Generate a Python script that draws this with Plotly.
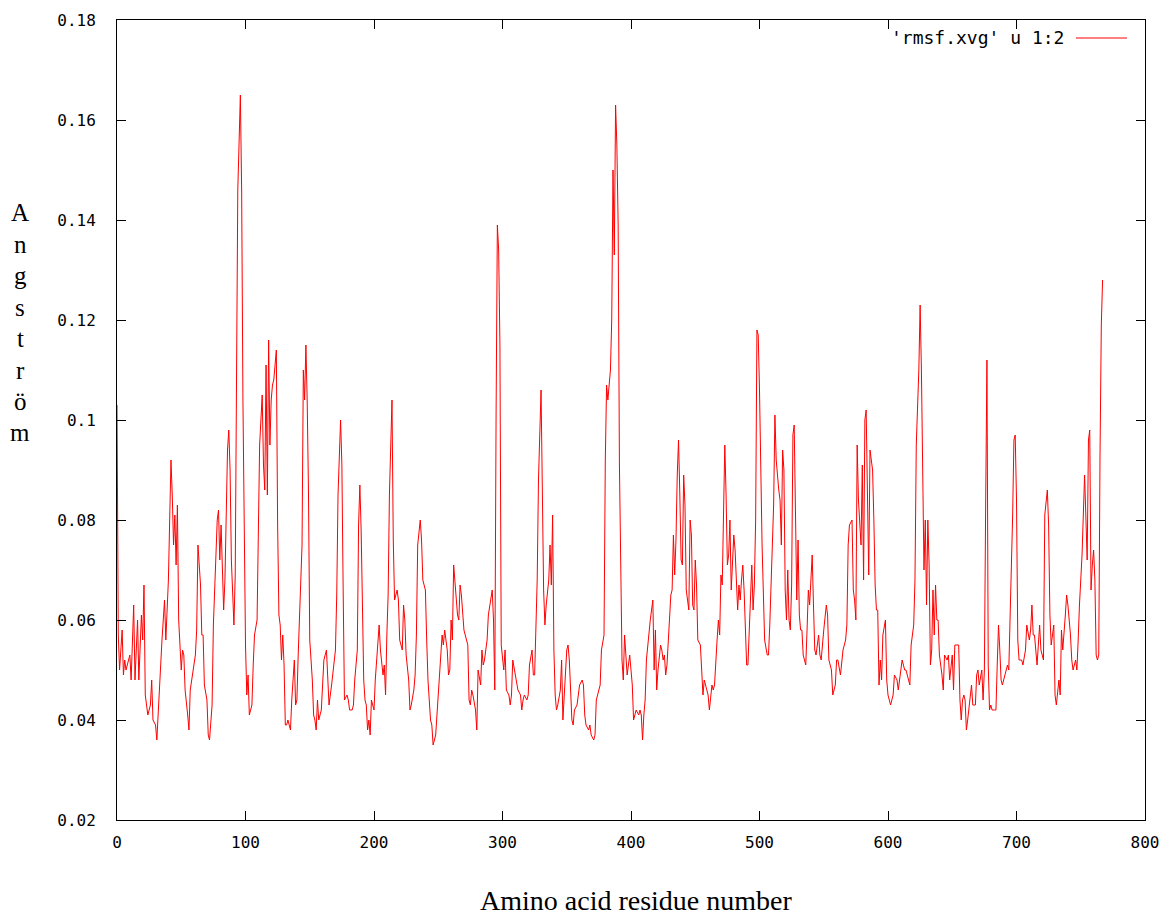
import plotly.graph_objects as go

# ---- data (residue number, RMSF value) ----
res_a = [0,1,2,3,4,5,6,7,10,11,13,14,16,17,19,20,21,22,24,26,27,28,30,31,33,34,35,37,38,40,41,42,43,44,45,46,47,48,50,51,52,53,55,56,57,58,59,61,62,63,65,66,67,68,70,71,72,74,75,76,78,79,80,81,83,84,85,86,87,88,89,90,91,92,93,94,96,97,98]
val_a = [.103,.057,.050,.055,.058,.049,.052,.050,.053,.048,.063,.048,.060,.048,.061,.056,.067,.045,.041,.043,.048,.040,.039,.036,.046,.052,.056,.064,.056,.068,.078,.092,.085,.075,.081,.071,.083,.060,.050,.054,.053,.046,.041,.038,.046,.048,.050,.053,.058,.075,.067,.057,.057,.047,.044,.037,.036,.043,.059,.066,.080,.082,.072,.079,.062,.068,.085,.094,.098,.090,.072,.064,.059,.069,.111,.146,.165,.146,.104]

res_b = [100,101,102,103,105,106,107,109,110,111,113,114,115,116,117,118,119,120,121,122,123,124,125,126,127,128,129,130,131,132,133,135,136,137,138,139,140,141,142,144,145,146,147,148,149,150,152,153,154,155,156,157,159,160,161,163,164,165,167,168,170,171,172,174,175,176,177,179,180,181,183,184,185,187,188,189,190,192,193,194,195,196,197,198]
val_b = [.055,.045,.049,.041,.043,.051,.057,.060,.077,.095,.105,.091,.086,.111,.085,.116,.095,.104,.107,.108,.111,.114,.079,.061,.059,.052,.057,.051,.039,.039,.040,.038,.044,.048,.052,.043,.044,.053,.061,.075,.110,.104,.115,.104,.086,.056,.048,.041,.040,.038,.044,.040,.042,.048,.052,.054,.047,.043,.047,.049,.054,.065,.085,.100,.091,.066,.044,.045,.044,.042,.042,.043,.048,.054,.079,.087,.078,.048,.044,.043,.038,.040,.037,.044]

res_c = [200,201,203,204,205,207,208,209,210,211,212,214,215,216,218,219,220,222,223,224,225,227,228,229,231,232,233,234,236,237,238,240,241,242,244,245,246,248,249,250,251,253,254,255,257,258,259,260,261,262,263,265,266,267,268,270,271,272,273,274,275,276,277,279,280,281,283,284,285,286,288,289,290,292,293,294,295,296,297,298,299]
val_c = [.042,.048,.057,.059,.054,.049,.051,.045,.057,.065,.085,.104,.076,.064,.066,.064,.056,.054,.063,.060,.053,.048,.042,.043,.046,.049,.057,.075,.080,.076,.068,.066,.056,.048,.040,.039,.035,.037,.041,.046,.049,.057,.055,.058,.054,.049,.050,.060,.056,.071,.067,.061,.060,.067,.065,.058,.057,.056,.055,.044,.043,.046,.045,.042,.038,.050,.047,.054,.051,.052,.056,.061,.063,.066,.060,.046,.101,.139,.134,.115,.055]

res_d = [301,302,303,305,306,307,308,310,311,312,314,315,316,317,319,320,321,323,324,325,327,328,330,331,332,333,334,336,337,338,339,340,341,342,343,345,346,347,349,350,351,352,354,355,356,358,359,360,362,363,364,365,367,368,369,371,372,373,375,376,377,379,380,381,382,384,385,386,387,388,389,390,391,393,394,395,397,399]
val_d = [.050,.054,.046,.045,.043,.045,.052,.049,.047,.046,.045,.042,.044,.045,.044,.045,.051,.054,.049,.049,.068,.088,.106,.078,.066,.059,.063,.068,.075,.067,.081,.054,.045,.042,.043,.046,.052,.040,.049,.054,.055,.052,.040,.039,.042,.043,.045,.047,.048,.047,.041,.039,.038,.039,.037,.036,.037,.044,.046,.047,.054,.057,.092,.107,.104,.110,.120,.150,.133,.163,.155,.139,.091,.052,.048,.057,.049,.053]

res_e = [400,401,402,403,404,406,407,408,409,410,411,412,414,415,417,418,419,420,421,423,424,425,426,427,428,430,431,432,433,434,435,436,437,438,439,440,441,442,443,445,446,447,448,449,450,451,452,454,455,456,457,459,460,461,463,464,465,467,468,469,470,471,472,473,474,475,476,477,478,479,480,481,482,483,484,485,486,487,488,489,490,491,493,494,495,496,497,498,499]
val_e = [.050,.047,.040,.041,.042,.041,.042,.041,.036,.041,.044,.052,.058,.060,.064,.050,.058,.046,.050,.055,.054,.052,.053,.049,.051,.059,.065,.066,.077,.069,.076,.089,.096,.085,.072,.071,.089,.083,.066,.062,.080,.077,.063,.062,.072,.067,.056,.055,.051,.045,.048,.046,.045,.042,.047,.046,.047,.056,.060,.057,.069,.067,.078,.095,.085,.071,.073,.080,.066,.072,.077,.074,.068,.062,.067,.064,.068,.071,.066,.057,.051,.051,.064,.071,.062,.067,.080,.118,.117]

res_f = [500,502,503,504,506,507,508,509,511,512,513,515,516,517,518,519,520,521,522,523,524,525,526,527,528,529,530,531,532,533,534,535,536,537,538,539,541,542,543,544,546,547,548,550,551,552,553,554,555,556,557,559,560,561,563,564,565,567,568,569,570,572,573,574,575,576,577,579,580,581,582,583,584,585,586,588,589,590,591,592,593,594,595,596,598,599]
val_f = [.106,.075,.062,.056,.053,.053,.059,.068,.083,.101,.092,.086,.084,.075,.094,.090,.066,.060,.070,.060,.058,.067,.097,.099,.082,.064,.076,.061,.058,.058,.053,.052,.051,.058,.066,.063,.073,.063,.054,.053,.057,.053,.052,.058,.061,.063,.061,.052,.051,.050,.045,.047,.052,.052,.049,.052,.054,.056,.059,.075,.079,.080,.066,.064,.060,.095,.084,.075,.091,.068,.100,.102,.083,.069,.094,.090,.080,.067,.062,.062,.047,.052,.048,.057,.060,.048]

res_g = [600,602,603,604,605,607,608,609,611,612,613,614,615,617,618,620,621,622,624,625,626,627,628,629,630,631,632,633,634,635,636,637,638,639,640,642,643,644,646,647,648,650,651,652,653,655,656,657,658,659,660,661,662,664,665,666,668,669,670,671,673,674,675,676,677,678,679,680,681,683,684,685,686,687,688,689,691,692,693,694,695,697,698,699]
val_g = [.045,.043,.044,.045,.049,.048,.046,.048,.052,.051,.050,.050,.049,.047,.055,.059,.068,.095,.110,.123,.110,.086,.070,.080,.063,.080,.071,.051,.054,.066,.057,.067,.060,.060,.053,.049,.046,.053,.052,.053,.048,.053,.046,.055,.055,.055,.044,.040,.044,.045,.044,.038,.040,.044,.047,.043,.043,.049,.050,.047,.050,.044,.050,.083,.112,.051,.042,.043,.042,.042,.042,.051,.059,.054,.048,.047,.049,.050,.051,.050,.059,.081,.096,.097]

res_h = [700,701,702,704,705,706,707,708,710,711,712,713,714,716,717,718,719,720,721,722,724,725,726,727,729,730,731,733,734,735,736,738,739,740,742,743,744,746,747,748,749,751,752,753,755,756,757,758,759,760,761,762,763,764,765,766,767]
val_h = [.084,.056,.052,.052,.051,.053,.054,.059,.056,.058,.063,.057,.057,.051,.056,.059,.054,.053,.052,.081,.086,.079,.061,.055,.059,.045,.043,.048,.045,.058,.054,.061,.065,.063,.057,.052,.050,.052,.050,.056,.063,.073,.083,.089,.072,.096,.098,.066,.071,.074,.068,.053,.052,.053,.093,.119,.128]

x_ticks = [0, 100, 200, 300, 400, 500, 600, 700, 800]
y_ticks = [0.02, 0.04, 0.06, 0.08, 0.10, 0.12, 0.14, 0.16, 0.18]
y_tick_text = ["0.02", "0.04", "0.06", "0.08", "0.1", "0.12", "0.14", "0.16", "0.18"]
legend_label = "'rmsf.xvg' u 1:2"
x_title = "Amino acid residue number"
y_title_letters = ["A", "n", "g", "s", "t", "r", "ö", "m"]

residues = res_a + res_b + res_c + res_d + res_e + res_f + res_g + res_h
rmsf = val_a + val_b + val_c + val_d + val_e + val_f + val_g + val_h
for r_, v_ in [(res_a, val_a), (res_b, val_b), (res_c, val_c), (res_d, val_d),
               (res_e, val_e), (res_f, val_f), (res_g, val_g), (res_h, val_h)]:
    assert len(r_) == len(v_), (len(r_), len(v_), r_[0])

W, H = 1176, 916
L, R, T, B = 117, 31, 20, 96
pw, ph = W - L - R, H - T - B

def px(xp):
    return (xp - L) / pw

def py(yp):
    return (T + ph - yp) / ph

tick_font = dict(family="DejaVu Sans Mono, monospace", size=16, color="#000000")
legend_font = dict(family="DejaVu Sans Mono, monospace", size=18, color="#000000")
serif = "Liberation Serif, Times New Roman, serif"

fig = go.Figure()
fig.add_trace(go.Scatter(x=residues, y=rmsf, mode="lines",
                         line=dict(color="#ff0000", width=1),
                         name=legend_label, showlegend=False))

axis_common = dict(showline=True, linecolor="#000000", linewidth=1, mirror="allticks",
                   ticks="inside", ticklen=9, tickcolor="#000000", tickwidth=1,
                   showgrid=False, zeroline=False, tickfont=tick_font)

fig.update_xaxes(range=[0, 800], tickvals=x_ticks, ticktext=[str(v) for v in x_ticks],
                 ticklabelstandoff=8, **axis_common)
fig.update_yaxes(range=[0.02, 0.18], tickvals=y_ticks, ticktext=y_tick_text,
                 ticklabelstandoff=17, **axis_common)

letter_top, letter_step = 213, 31.4
annotations = [
    dict(text=x_title, xref="paper", yref="paper", x=px(636), y=py(900),
         xanchor="center", yanchor="middle", showarrow=False,
         font=dict(family=serif, size=28, color="#000000")),
    dict(text=legend_label, xref="paper", yref="paper", x=px(1066), y=py(38),
         xanchor="right", yanchor="middle", showarrow=False,
         font=legend_font),
]
for i, ch in enumerate(y_title_letters):
    annotations.append(dict(text=ch, xref="paper", yref="paper",
                            x=px(20), y=py(letter_top + i * letter_step),
                            xanchor="center", yanchor="middle", showarrow=False,
                            font=dict(family=serif, size=25, color="#000000")))

shapes = [dict(type="line", xref="paper", yref="paper", x0=px(1076), x1=px(1127),
               y0=py(38), y1=py(38), line=dict(color="#ff0000", width=1))]

fig.update_layout(width=W, height=H, margin=dict(l=L, r=R, t=T, b=B),
                  plot_bgcolor="#ffffff", paper_bgcolor="#ffffff",
                  showlegend=False, annotations=annotations, shapes=shapes)

fig.write_html("out.html")
